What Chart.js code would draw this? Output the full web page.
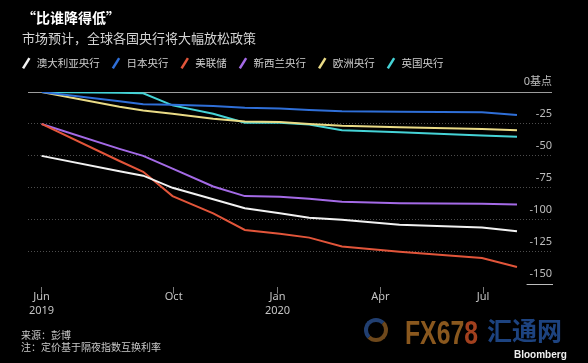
<!DOCTYPE html>
<html><head><meta charset="utf-8">
<script src="https://cdn.jsdelivr.net/npm/chart.js@4.4.1/dist/chart.umd.min.js"></script>
<style>
html,body{margin:0;padding:0;background:#000;width:588px;height:363px;overflow:hidden;}
#wrap{position:relative;width:588px;height:363px;background:#000;}
canvas{position:absolute;left:0;top:0;}
.t{position:absolute;white-space:nowrap;line-height:1;font-family:"Noto Sans CJK SC","Noto Sans",sans-serif;}
</style></head><body>
<div id="wrap">
<canvas id="c" width="588" height="363"></canvas>
<div class="t" style="left:22px;top:10px;font-size:14px;font-weight:bold;color:#fff">“比谁降得低”</div>
<div class="t" style="left:22px;top:31px;font-size:13px;color:#d4d4d4">市场预计，全球各国央行将大幅放松政策</div>
<div class="t" style="left:21px;top:330px;font-size:10px;color:#c8c8c8">来源：彭博</div>
<div class="t" style="left:21px;top:342px;font-size:10px;color:#c8c8c8">注：定价基于隔夜指数互换利率</div>
<div style="position:absolute;left:364px;top:318px;width:16px;height:16px;border-radius:50%;border:4px solid #8a5a22;border-left-color:#2a4f8e;border-top-color:#2a4f8e;opacity:0.8"></div>
<div class="t" style="left:405px;top:316px;font-size:33px;font-weight:bold;font-family:'Liberation Sans',sans-serif;color:#8a581e;transform:scaleX(0.75);transform-origin:0 0">FX67<span style="color:#a2401e">8</span></div>
<div class="t" style="left:487px;top:317px;font-size:25px;font-weight:bold;color:#1d4380">汇通网</div>
<div class="t" style="left:514px;top:350px;font-size:10px;font-weight:bold;font-family:'Liberation Sans',sans-serif;color:#f0f0f0">Bloomberg</div>
</div>
<script>
const seriesNames = ['澳大利亚央行','日本央行','美联储','新西兰央行','欧洲央行','英国央行'];
const seriesColors = ['#f2f2f2','#2f6fd8','#e2553a','#a46ae6','#eadb86','#45d3d6'];
const dates = ['2019-06-06','2019-08-14','2019-09-04','2019-09-30','2019-11-05','2019-12-03','2020-01-03','2020-01-29','2020-02-27','2020-04-18','2020-06-30','2020-07-31'];
const rba  = [-50,-62,-65.5,-75,-84,-91,-95,-98.5,-100,-104,-106,-109];
const boj  = [0,-7.3,-9.6,-10,-11,-12.3,-13,-14,-15,-15.5,-15.8,-18];
const fed  = [-25,-54,-62.5,-81.5,-95,-108,-111,-114,-121,-125,-130,-137];
const rbnz = [-25,-44.5,-50,-60,-74,-81.5,-82,-83.6,-86,-87,-87.5,-88];
const ecb  = [0,-11.5,-14.5,-17,-21,-23,-23.5,-25,-26.5,-27.5,-29,-30];
const boe  = [0,-0.5,-1,-10.5,-17,-24,-24,-25.5,-30,-31.5,-34,-35];
const tickDates = ['2019-06-06','2019-10-01','2020-01-01','2020-04-01','2020-07-01'];
const tickLabels = [['Jun','2019'],'Oct',['Jan','2020'],'Apr','Jul'];
const yTicks = [-150,-125,-100,-75,-50,-25,0];
const xRange = ['2019-05-25','2020-08-31'];

const seriesValues = [rba, boj, fed, rbnz, ecb, boe];
const day = s => { const p = s.split('-').map(Number); return (Date.UTC(p[0],p[1]-1,p[2]) - Date.UTC(2019,5,1)) / 86400000; };
const xs = dates.map(day);
const yMin = yTicks[0], yMax = yTicks[yTicks.length-1];

const datasets = seriesNames.map((n,i) => ({
  label: n,
  data: seriesValues[i].map((v,j) => ({x: xs[j], y: v})),
  borderColor: seriesColors[i],
  backgroundColor: seriesColors[i],
  borderWidth: 2,
  pointRadius: 0,
  tension: 0,
  yAxisID: 'y'
}));

const baseline = {
  id: 'baseline',
  afterDraw(chart) {
    const ys = chart.scales.y;
    const a = chart.chartArea;
    const yb = ys.getPixelForValue(yMin);
    const ctx = chart.ctx;
    ctx.save();
    ctx.clearRect(a.left - 2, yb - 1.5, a.right - a.left + 4, 5);
    ctx.setLineDash([]);
    ctx.font = '11px "Noto Sans"';
    const w = ctx.measureText(String(yMin)).width;
    const py = Math.round(yb) + 0.5;
    ctx.strokeStyle = '#bdbdbd';
    ctx.lineWidth = 1;
    ctx.beginPath();
    ctx.moveTo(a.right - w - 3, py);
    ctx.lineTo(a.right + 1, py);
    ctx.stroke();
    ctx.restore();
  }
};

const yLabelTicks = {
  mirror: true, padding: 0, labelOffset: -10,
  color: '#bdbdbd',
  font: { size: 11, family: '"Noto Sans","Noto Sans CJK SC",sans-serif' },
  callback: v => v === 0 ? '0基点' : String(v)
};

new Chart(document.getElementById('c'), {
  type: 'line',
  data: { datasets },
  plugins: [baseline],
  options: {
    responsive: false,
    animation: false,
    layout: { padding: { left: 10, right: 28, top: 47, bottom: 49 } },
    plugins: {
      title: { display: false },
      subtitle: {
        display: true, text: '', weight: 500, position: 'top',
        font: { size: 5, lineHeight: 1 },
        padding: { top: 8.5, bottom: 0 }
      },
      tooltip: { enabled: false },
      legend: {
        position: 'top',
        align: 'start',
        weight: 1000,
        labels: {
          color: '#cfcfcf',
          font: { size: 10.5, family: '"Noto Sans CJK SC","Noto Sans",sans-serif' },
          padding: 11,
          usePointStyle: true,
          boxHeight: 8.5,
          generateLabels(chart) {
            return chart.data.datasets.map((d,i) => ({
              text: d.label,
              fillStyle: d.borderColor,
              strokeStyle: d.borderColor,
              lineWidth: 2.5,
              pointStyle: 'line',
              rotation: -58,
              fontColor: '#cfcfcf',
              hidden: false,
              datasetIndex: i
            }));
          }
        }
      }
    },
    scales: {
      x: {
        type: 'linear',
        min: day(xRange[0]),
        max: day(xRange[1]),
        afterBuildTicks: s => { s.ticks = tickDates.map(d => ({value: day(d)})); },
        ticks: {
          autoSkip: false, maxRotation: 0, padding: -3,
          color: '#c4c4c4',
          font: { size: 11, family: '"Noto Sans",sans-serif' },
          callback: (v, i) => tickLabels[i]
        },
        grid: { drawOnChartArea: false, drawTicks: true, tickLength: 10, tickColor: '#7a7a7a', tickWidth: 1 },
        border: { display: false }
      },
      y: {
        position: 'right',
        min: yMin,
        max: yMax,
        afterBuildTicks: s => { s.ticks = yTicks.slice(1).map(v => ({value: v})); },
        ticks: yLabelTicks,
        grid: {
          drawTicks: false,
          lineWidth: 1,
          color: c => (c.tick && c.tick.value === 0) ? '#9c9c9c' : '#4d4d4d'
        },
        border: {
          display: false,
          dash: c => (c.tick && c.tick.value !== 0) ? [1, 2] : []
        }
      },
      yB: {
        position: 'right',
        min: yMin,
        max: yMax,
        afterBuildTicks: s => { s.ticks = [{value: yMin}]; },
        ticks: yLabelTicks,
        grid: { display: false },
        border: { display: false }
      },
      yL: {
        position: 'left',
        display: true,
        afterFit: s => { s.width = 18; },
        grid: { display: false },
        ticks: { display: false },
        border: { display: false }
      }
    }
  }
});
</script>
</body></html>
